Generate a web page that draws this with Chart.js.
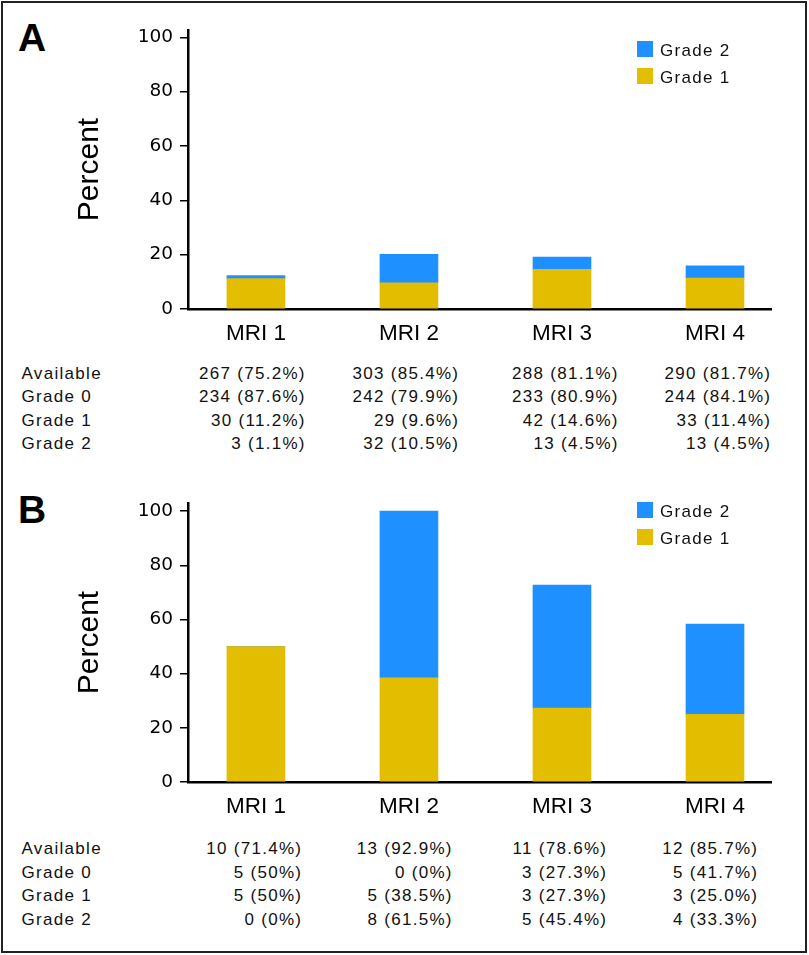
<!DOCTYPE html>
<html>
<head>
<meta charset="utf-8">
<script src="https://cdn.jsdelivr.net/npm/chart.js@4.4.0/dist/chart.umd.min.js"></script>
<style>
  body { margin: 0; background: #fff; }
  #page { position: relative; width: 809px; height: 955px; overflow: hidden; background: #fff; }
  #frame { position: absolute; left: 1px; top: 1px; width: 806px; height: 952px; border: 2px solid #222; box-sizing: border-box; }
  .wrap { position: absolute; left: 0; width: 809px; height: 350px; }
  .panel { position: absolute; font: bold 39px "Liberation Sans", Arial, sans-serif; line-height: 39px; color: #000; }
  .txt { position: absolute; font: 17px "Liberation Sans", Arial, sans-serif; line-height: 20px; letter-spacing: 1.3px; color: #111; white-space: nowrap; }
  .sw { position: absolute; width: 16px; height: 16px; }
</style>
</head>
<body>
<div id="page">
  <div id="frame"></div>
  <div class="panel" style="left:18px; top:18px">A</div>
  <div class="panel" style="left:18px; top:490px">B</div>
  <div class="wrap" style="top:0"><canvas id="chartA" width="809" height="350"></canvas></div>
  <div class="wrap" style="top:470px"><canvas id="chartB" width="809" height="350"></canvas></div>
</div>
<script>
// categories
let mri_labels = ["MRI 1", "MRI 2", "MRI 3", "MRI 4"]
let row_labels = ["Available", "Grade 0", "Grade 1", "Grade 2"]
let y_ticks = [0, 20, 40, 60, 80, 100]

// panel A (counts and percents as printed)
let a_available_n = [267, 303, 288, 290]
let a_available_pct = ["75.2", "85.4", "81.1", "81.7"]
let a_grade0_n = [234, 242, 233, 244]
let a_grade0_pct = ["87.6", "79.9", "80.9", "84.1"]
let a_grade1_n = [30, 29, 42, 33]
let a_grade1_pct = ["11.2", "9.6", "14.6", "11.4"]
let a_grade2_n = [3, 32, 13, 13]
let a_grade2_pct = ["1.1", "10.5", "4.5", "4.5"]

// panel B
let b_available_n = [10, 13, 11, 12]
let b_available_pct = ["71.4", "92.9", "78.6", "85.7"]
let b_grade0_n = [5, 0, 3, 5]
let b_grade0_pct = ["50", "0", "27.3", "41.7"]
let b_grade1_n = [5, 5, 3, 3]
let b_grade1_pct = ["50", "38.5", "27.3", "25.0"]
let b_grade2_n = [0, 8, 5, 4]
let b_grade2_pct = ["0", "61.5", "45.4", "33.3"]

let blue = "#1e90ff"
let yellow = "#e3bd00"

let page = document.getElementById("page")

drow_panel("chartA", a_grade1_pct, a_grade2_pct, 102.7, 30, 41)
drow_panel("chartB", b_grade1_pct, b_grade2_pct, 103, 33, 38)

// legends
add_legend(41, 68)
add_legend(502, 529)

// tables
add_table([379.5, 403, 426.5, 450], [304.5, 458, 617.5, 770],
    [[a_available_n, a_available_pct], [a_grade0_n, a_grade0_pct], [a_grade1_n, a_grade1_pct], [a_grade2_n, a_grade2_pct]])
add_table([855, 878.5, 902, 925.5], [301, 451.5, 606, 757],
    [[b_available_n, b_available_pct], [b_grade0_n, b_grade0_pct], [b_grade1_n, b_grade1_pct], [b_grade2_n, b_grade2_pct]])


function drow_panel(id, grade1, grade2, y_max, pad_top, x_height) {
    let canvas = document.getElementById(id)
    new Chart(canvas, {
        type: "bar",
        data: {
            datasets: [{
                label: "Grade 1",
                data: grade1.map((v, i) => ({ x: i + 1, y: Number(v) })),
                backgroundColor: yellow,
                barThickness: 58
            }, {
                label: "Grade 2",
                data: grade2.map((v, i) => ({ x: i + 1, y: Number(v) })),
                backgroundColor: blue,
                barThickness: 58
            }]
        },
        options: {
            responsive: false,
            animation: false,
            layout: { padding: { top: pad_top, right: 38, left: 0, bottom: 0 } },
            plugins: { legend: { display: false }, tooltip: { enabled: false } },
            scales: {
                x: {
                    type: "linear",
                    stacked: true,
                    offset: false,
                    min: 0.556,
                    max: 4.366,
                    afterBuildTicks: (s) => { s.ticks = mri_labels.map((l, i) => ({ value: i + 1 })) },
                    afterFit: (s) => { s.height = x_height },
                    ticks: {
                        callback: (v) => mri_labels[v - 1],
                        color: "#000",
                        padding: 11,
                        maxRotation: 0,
                        font: { family: "'Liberation Sans', Arial, sans-serif", size: 22.5 }
                    },
                    grid: { display: false, drawTicks: false },
                    border: { display: true, color: "#000", width: 2.5 }
                },
                y: {
                    stacked: true,
                    min: 0,
                    max: y_max,
                    afterBuildTicks: (s) => { s.ticks = y_ticks.map((v) => ({ value: v })) },
                    afterFit: (s) => { s.width = 188 },
                    ticks: {
                        color: "#000",
                        padding: 7,
                        font: { family: "'DejaVu Sans', sans-serif", size: 18.5 }
                    },
                    grid: { drawOnChartArea: false, drawTicks: true, tickLength: 8, color: "#000", lineWidth: 1.5 },
                    border: { display: true, color: "#000", width: 2.5 },
                    title: {
                        display: true,
                        text: "Percent",
                        color: "#000",
                        padding: { top: 71.6, bottom: 0 },
                        font: { family: "'Liberation Sans', Arial, sans-serif", size: 30 }
                    }
                }
            }
        }
    })
}

function add_text(str, left, right, baseline) {
    let el = document.createElement("div")
    el.className = "txt"
    el.textContent = str
    el.style.top = (baseline - 16) + "px"
    if (right != null) {
        el.style.right = (809 - right - 1.3) + "px"
        el.style.textAlign = "right"
    } else {
        el.style.left = left + "px"
    }
    page.appendChild(el)
}

function add_legend(top2, top1) {
    let items = [["Grade 2", blue, top2], ["Grade 1", yellow, top1]]
    for (let i = 0; i < items.length; i++) {
        let sw = document.createElement("div")
        sw.className = "sw"
        sw.style.left = "637px"
        sw.style.top = items[i][2] + "px"
        sw.style.background = items[i][1]
        page.appendChild(sw)
        add_text(items[i][0], 660, null, items[i][2] + 15.5)
    }
}

function add_table(baselines, col_right, rows) {
    for (let r = 0; r < rows.length; r++) {
        add_text(row_labels[r], 21.5, null, baselines[r])
        for (let c = 0; c < col_right.length; c++) {
            let str = rows[r][0][c] + " (" + rows[r][1][c] + "%)"
            add_text(str, null, col_right[c], baselines[r])
        }
    }
}
</script>
</body>
</html>
